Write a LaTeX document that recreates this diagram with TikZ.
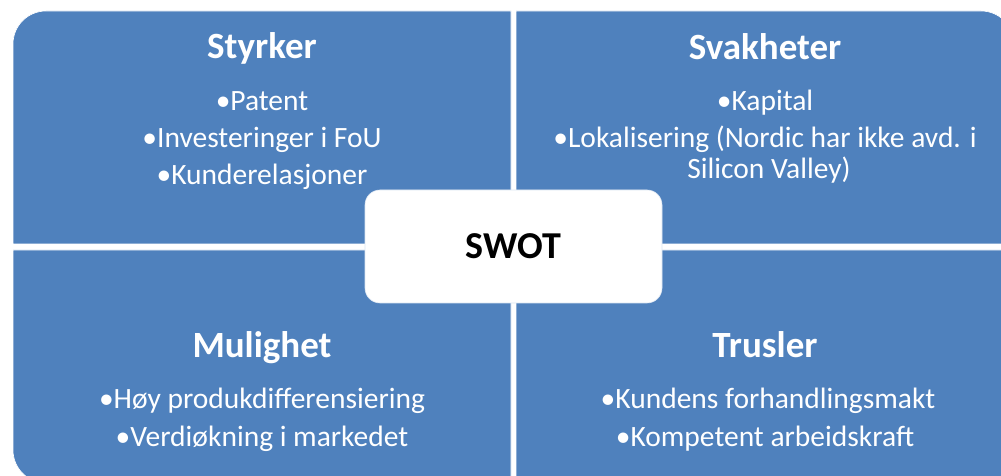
\documentclass[tikz,border=0pt]{standalone}
\usepackage{fontspec}
\setmainfont{Carlito}
\definecolor{swotblue}{HTML}{4F81BD}
\begin{document}
\begin{tikzpicture}[x=1bp,y=1bp,
        quad/.style={fill=swotblue,draw=white,line width=0.6bp},
        head/.style={anchor=base,text=white,font=\fontsize{37bp}{44bp}\selectfont\bfseries},
        item/.style={anchor=base,text=white,font=\fontsize{29.5bp}{35bp}\selectfont},
        centre box/.style={fill=white,draw=swotblue!20,line width=0.6bp,rounded corners=15bp,
            minimum width=297bp,minimum height=113bp,inner sep=0pt,
            font=\fontsize{38bp}{44bp}\selectfont\bfseries}]
    % Frame
    \useasboundingbox (0,0) rectangle (1001,476);
    \fill[white] (0,0) rectangle (1001,476);
    \clip (0,0) rectangle (1001,476);

    % Four quadrants, outer corners rounded
    \path[quad] (511,232) -- (13,232) -- (13,432) arc[start angle=180,end angle=90,radius=33] -- (511,465) -- cycle;
    \path[quad] (516,232) -- (516,465) -- (981,465) arc[start angle=90,end angle=0,radius=33] -- (1014,232) -- cycle;
    \path[quad] (511,226) -- (13,226) -- (13,26) arc[start angle=180,end angle=270,radius=33] -- (511,-7) -- cycle;
    \path[quad] (516,226) -- (516,-7) -- (981,-7) arc[start angle=270,end angle=360,radius=33] -- (1014,226) -- cycle;

    % Styrker
    \node[head] (styrker) at (262,417) {Styrker};
    \node[item] (s1) at (262,365) {•Patent};
    \node[item] (s2) at (262,328) {•Investeringer i FoU};
    \node[item] (s3) at (262,291) {•Kunderelasjoner};

    % Svakheter
    \node[head] (svakheter) at (765,416) {Svakheter};
    \node[item] (w1) at (765,365) {•Kapital};
    \node[item] (w2) at (765,328) {•Lokalisering (Nordic har ikke avd. i};
    \node[item] (w3) at (769,297) {Silicon Valley)};

    % Mulighet
    \node[head] (mulighet) at (262,118) {Mulighet};
    \node[item] (o1) at (262,67) {•Høy produkdifferensiering};
    \node[item] (o2) at (262,29) {•Verdiøkning i markedet};

    % Trusler
    \node[head] (trusler) at (765,118) {Trusler};
    \node[item] (t1) at (768,67) {•Kundens forhandlingsmakt};
    \node[item] (t2) at (765,29) {•Kompetent arbeidskraft};

    % Centre
    \node[centre box] (swot) at (513.5,229.5) {SWOT};
\end{tikzpicture}
\end{document}
